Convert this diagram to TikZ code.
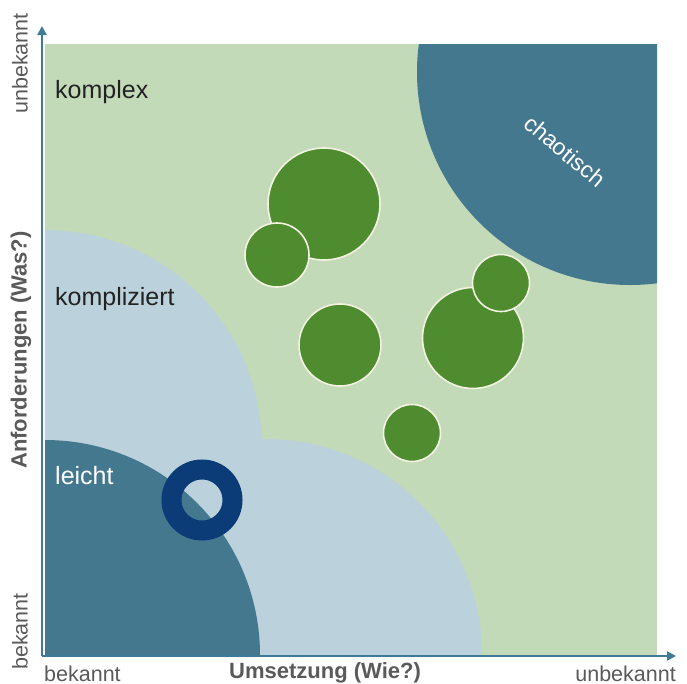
\documentclass[tikz,border=0pt]{standalone}
\usepackage{fontspec}
\setmainfont{Liberation Sans}
\usetikzlibrary{arrows.meta}
\definecolor{fieldgreen}{HTML}{C3DAB9}
\definecolor{paleblue}{HTML}{BBD1DB}
\definecolor{deepteal}{HTML}{44788F}
\definecolor{dotgreen}{HTML}{4E8C2F}
\definecolor{rimcream}{HTML}{F3F3E2}
\definecolor{ringblue}{HTML}{0B3C78}
\definecolor{axisblue}{HTML}{3F7A97}
\definecolor{labelgray}{HTML}{5A5A5A}
\definecolor{zonetext}{HTML}{222222}
\begin{document}
\begin{tikzpicture}[x=1pt,y=-1pt,
  dot/.style={circle,draw=rimcream,line width=1.6pt,fill=dotgreen,inner sep=0pt},
  axisline/.style={draw=axisblue,line width=2.6pt,-{Triangle[length=9pt,width=9pt]}},
  zonelabel/.style={anchor=base west,font=\fontsize{25}{28}\selectfont,inner sep=0pt},
  axislabel/.style={font=\fontsize{21.5}{24}\selectfont,text=labelgray,inner sep=0pt},
  axistitle/.style={font=\fontsize{22}{25}\selectfont\bfseries,text=labelgray,inner sep=0pt}]
\useasboundingbox (0,0) rectangle (687,683);
\fill[white] (0,0) rectangle (687,683);

% the field and its zones
\begin{scope}
  \clip (45,44) rectangle (657,655);
  \fill[fieldgreen] (45,44) rectangle (657,655);
  \fill[paleblue] (45,447) circle[radius=217pt];
  \fill[paleblue] (266,655) circle[radius=216pt];
  \fill[deepteal] (45,655) circle[radius=215pt];
  \fill[deepteal] (630,72) circle[radius=213pt];
\end{scope}

% zone names
\node[zonelabel,text=zonetext] (komplex) at (55,98) {komplex};
\node[zonelabel,text=zonetext] (kompliziert) at (55,305) {kompliziert};
\node[zonelabel,text=white] (leicht) at (55,484) {leicht};
\node[font=\fontsize{23}{26}\selectfont,text=white,rotate=-40,inner sep=0pt] (chaotisch) at (565,151) {chaotisch};

% projects
\node[dot,minimum size=112pt] (p1) at (324,204) {};
\node[dot,minimum size=64pt] (p2) at (277,255) {};
\node[dot,minimum size=82pt] (p3) at (340,345) {};
\node[dot,minimum size=101pt] (p4) at (473,338) {};
\node[dot,minimum size=57pt] (p5) at (501,283) {};
\node[dot,minimum size=57pt] (p6) at (412,433) {};

% marker ring
\draw[ringblue,line width=20pt] (202,500) circle[radius=30.5pt];
\coordinate (ring) at (202,500);

% axes
\coordinate (origin) at (42,656);
\coordinate (ytip) at (42,26);
\coordinate (xtip) at (676,656);
\draw[axisline] (origin) -- (ytip);
\draw[axisline] (origin) -- (xtip);

% axis labels
\node[axislabel,rotate=90,anchor=south east] (ytop) at (28,13) {unbekannt};
\node[axislabel,rotate=90,anchor=south west] (ybot) at (28,670) {bekannt};
\node[axistitle,rotate=90] (ytitle) at (21,350) {Anforderungen (Was?)};
\node[axislabel,anchor=base west] (xleft) at (44,681) {bekannt};
\node[axislabel,anchor=base east] (xright) at (676,681) {unbekannt};
\node[axistitle,anchor=base] (xtitle) at (325,678) {Umsetzung (Wie?)};
\end{tikzpicture}
\end{document}
